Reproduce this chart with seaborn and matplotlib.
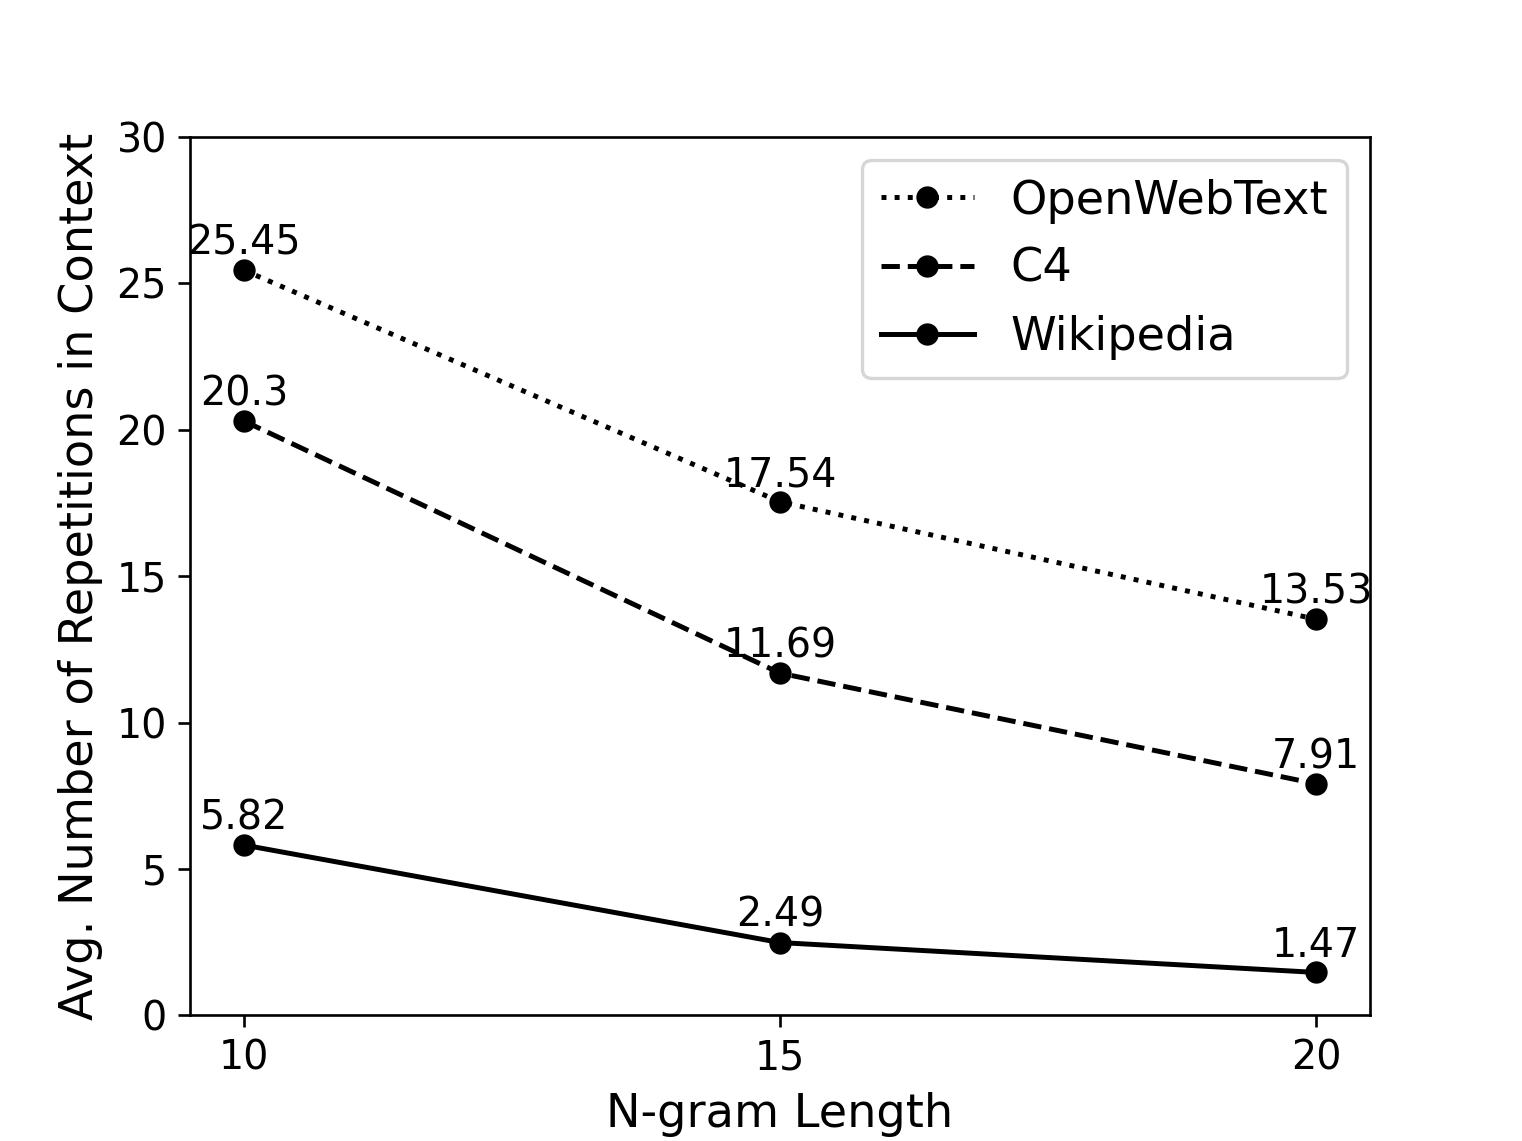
import matplotlib
matplotlib.use("Agg")
import matplotlib.pyplot as plt
import seaborn as sns
import pandas as pd

ngram = [10, 15, 20]
openwebtext = [25.45, 17.54, 13.53]
c4 = [20.3, 11.69, 7.91]
wikipedia = [5.82, 2.49, 1.47]

series = [("OpenWebText", openwebtext, ":"),
          ("C4", c4, "--"),
          ("Wikipedia", wikipedia, "-")]

fig = plt.figure(figsize=(1522 / 238, 1141 / 238), dpi=238)
ax = fig.add_subplot(111)

for name, vals, ls in series:
    df = pd.DataFrame({"n": ngram, "v": vals})
    sns.lineplot(data=df, x="n", y="v", ax=ax, color="black", marker="o",
                 markersize=6, markeredgecolor="black", linestyle=ls,
                 linewidth=1.5, label=name)
    for x, y in zip(ngram, vals):
        ax.annotate(f"{y}", (x, y), xytext=(0, 2), textcoords="offset points",
                    ha="center", va="bottom", fontsize=12)

ax.set_xlim(9.5, 20.5)
ax.set_ylim(0, 30)
ax.set_xticks(ngram)
ax.tick_params(labelsize=12)
ax.set_xlabel("N-gram Length", fontsize=14)
ax.set_ylabel("Avg. Number of Repetitions in Context", fontsize=14)
ax.legend(loc="upper right", fontsize=14)

fig.savefig("out.png", dpi=238)
